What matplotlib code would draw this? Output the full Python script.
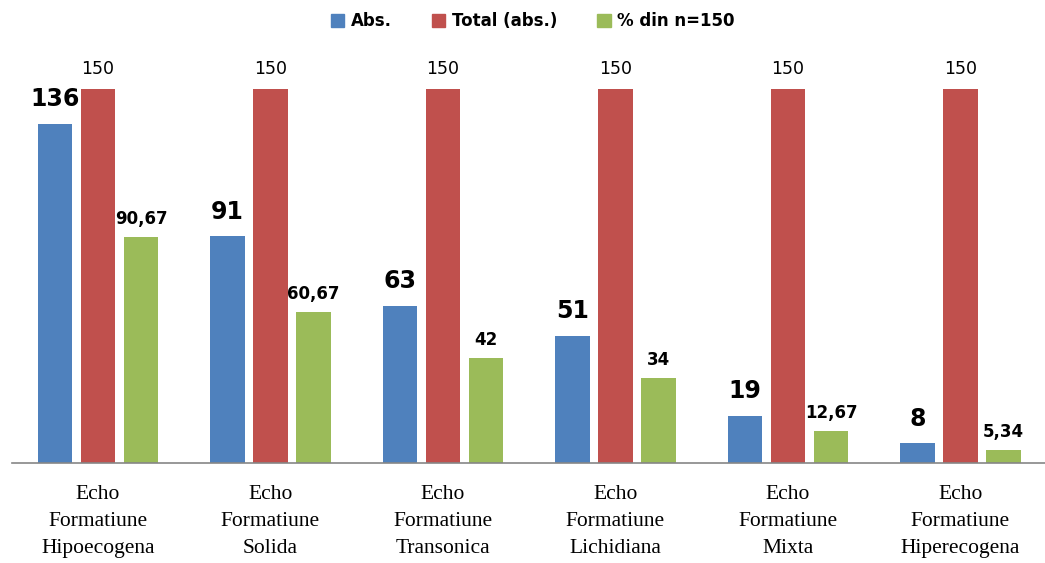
import numpy as np
import matplotlib.pyplot as plt
from matplotlib.patches import Patch

# Data
categories = ['Echo\nFormatiune\nHipoecogena', 'Echo\nFormatiune\nSolida',
              'Echo\nFormatiune\nTransonica', 'Echo\nFormatiune\nLichidiana',
              'Echo\nFormatiune\nMixta', 'Echo\nFormatiune\nHiperecogena']
abs_vals = [136, 91, 63, 51, 19, 8]
total_vals = [150, 150, 150, 150, 150, 150]
pct_vals = [90.67, 60.67, 42, 34, 12.67, 5.34]
series_names = ['Abs.', 'Total (abs.)', '% din n=150']

blue, red, green = '#4F81BD', '#C0504D', '#9BBB59'

fig = plt.figure(figsize=(10.45, 5.63), dpi=100)
ax = fig.add_axes([0.0112, 0.1776, 0.9888, 0.7087])

x = np.arange(len(categories))
w = 0.2
b1 = ax.bar(x - 0.25, abs_vals, w, color=blue)
b2 = ax.bar(x, total_vals, w, color=red)
b3 = ax.bar(x + 0.25, pct_vals, w, color=green)

def fmt(v):
    return f"{v:g}".replace('.', ',')

# value labels
for rect, v in zip(b1, abs_vals):
    ax.annotate(str(v), (rect.get_x() + rect.get_width() / 2, v),
                xytext=(0, 9), textcoords='offset points', ha='center', va='bottom',
                fontsize=17, fontweight='bold', color='black')
for rect, v in zip(b2, total_vals):
    ax.annotate(str(v), (rect.get_x() + rect.get_width() / 2, v),
                xytext=(0, 8), textcoords='offset points', ha='center', va='bottom',
                fontsize=12.5, color='black')
for rect, v in zip(b3, pct_vals):
    ax.annotate(fmt(v), (rect.get_x() + rect.get_width() / 2, v),
                xytext=(0, 6.5), textcoords='offset points', ha='center', va='bottom',
                fontsize=12, fontweight='bold', color='black')

ax.set_xlim(-0.5, 5.49)
ax.set_ylim(0, 160)
ax.set_xticks(x)
ax.set_xticklabels(categories, fontsize=15.5, family='Liberation Serif', linespacing=1.55)
ax.tick_params(axis='x', length=0, pad=16)
ax.set_yticks([])
for s in ['top', 'right', 'left']:
    ax.spines[s].set_visible(False)
ax.spines['bottom'].set_color('#868686')
ax.spines['bottom'].set_linewidth(1.2)

# legend at top
handles = [Patch(color=c) for c in (blue, red, green)]
fig.legend(handles, series_names, loc='upper center', bbox_to_anchor=(0.51, 1.005), ncol=3,
           frameon=False, prop={'weight': 'bold', 'size': 12}, handlelength=0.8,
           handleheight=0.8, handletextpad=0.4, columnspacing=2.4)

fig.savefig('out.png', dpi=100)
